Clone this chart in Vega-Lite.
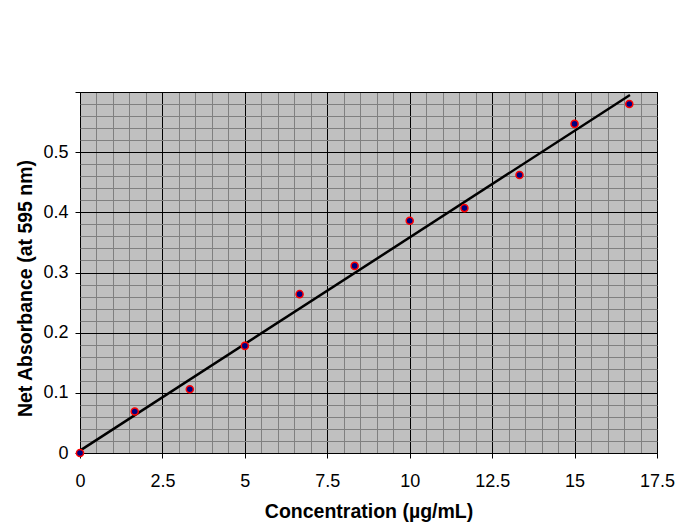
{
  "$schema": "https://vega.github.io/schema/vega-lite/v6.json",
  "width": 577,
  "height": 361,
  "autosize": {"type": "none"},
  "padding": {"left": 80, "top": 92, "right": 23, "bottom": 70},
  "background": "white",
  "config": {
    "font": "Liberation Sans",
    "view": {"fill": "#C0C0C0", "stroke": "black", "strokeWidth": 1},
    "axis": {
      "labelFont": "Liberation Sans",
      "titleFont": "Liberation Sans",
      "labelFontSize": 18,
      "titleFontSize": 19.5,
      "titleFontWeight": "bold",
      "labelColor": "black",
      "titleColor": "black",
      "domainColor": "black",
      "tickColor": "black",
      "tickSize": 5
    }
  },
  "datasets": {
    "points": [
      {"conc": 0, "abs": 0.0},
      {"conc": 1.66, "abs": 0.069},
      {"conc": 3.33, "abs": 0.106},
      {"conc": 5.0, "abs": 0.178},
      {"conc": 6.66, "abs": 0.264},
      {"conc": 8.33, "abs": 0.311},
      {"conc": 10.0, "abs": 0.386},
      {"conc": 11.66, "abs": 0.407},
      {"conc": 13.33, "abs": 0.462},
      {"conc": 15.0, "abs": 0.547},
      {"conc": 16.66, "abs": 0.580}
    ],
    "trend": [
      {"conc": 0, "abs": 0.004},
      {"conc": 16.68, "abs": 0.595}
    ]
  },
  "encoding": {
    "x": {
      "field": "conc", "type": "quantitative",
      "scale": {"domain": [0, 17.5], "nice": false, "zero": false},
      "axis": {
        "title": "Concentration (µg/mL)",
        "values": [0,0.5,1,1.5,2,2.5,3,3.5,4,4.5,5,5.5,6,6.5,7,7.5,8,8.5,9,9.5,10,10.5,11,11.5,12,12.5,13,13.5,14,14.5,15,15.5,16,16.5,17,17.5],
        "format": "~g",
        "grid": true,
        "gridColor": {"condition": {"test": "datum.value % 2.5 === 0", "value": "black"}, "value": "#808080"},
        "gridWidth": 1,
        "tickOpacity": {"condition": {"test": "datum.value % 2.5 === 0", "value": 1}, "value": 0},
        "labelExpr": "datum.value % 2.5 === 0 ? datum.label : ''",
        "labelPadding": 14,
        "titlePadding": 12,
        "domain": false,
        "labelFlush": false,
        "labelOverlap": false
      }
    },
    "y": {
      "field": "abs", "type": "quantitative",
      "scale": {"domain": [0, 0.6], "nice": false, "zero": false},
      "axis": {
        "title": "Net Absorbance (at 595 nm)",
        "values": [0,0.02,0.04,0.06,0.08,0.1,0.12,0.14,0.16,0.18,0.2,0.22,0.24,0.26,0.28,0.3,0.32,0.34,0.36,0.38,0.4,0.42,0.44,0.46,0.48,0.5,0.52,0.54,0.56,0.58,0.6],
        "format": "~g",
        "grid": true,
        "gridColor": {"condition": {"test": "round(datum.value*50) % 5 === 0", "value": "black"}, "value": "#808080"},
        "gridWidth": 1,
        "tickOpacity": {"condition": {"test": "round(datum.value*50) % 5 === 0", "value": 1}, "value": 0},
        "labelExpr": "(round(datum.value*50) % 5 === 0 && datum.value < 0.59) ? datum.label : ''",
        "labelPadding": 7,
        "titlePadding": 7,
        "titleY": 196,
        "domain": false,
        "labelFlush": false,
        "labelOverlap": false
      }
    }
  },
  "layer": [
    {
      "data": {"name": "trend"},
      "mark": {"type": "line", "color": "black", "strokeWidth": 2.5, "clip": false}
    },
    {
      "data": {"name": "points"},
      "mark": {"type": "point", "shape": "circle", "filled": true, "fill": "#000080", "stroke": "#FF0000", "strokeWidth": 1.5, "size": 50, "opacity": 1, "clip": false}
    }
  ]
}
